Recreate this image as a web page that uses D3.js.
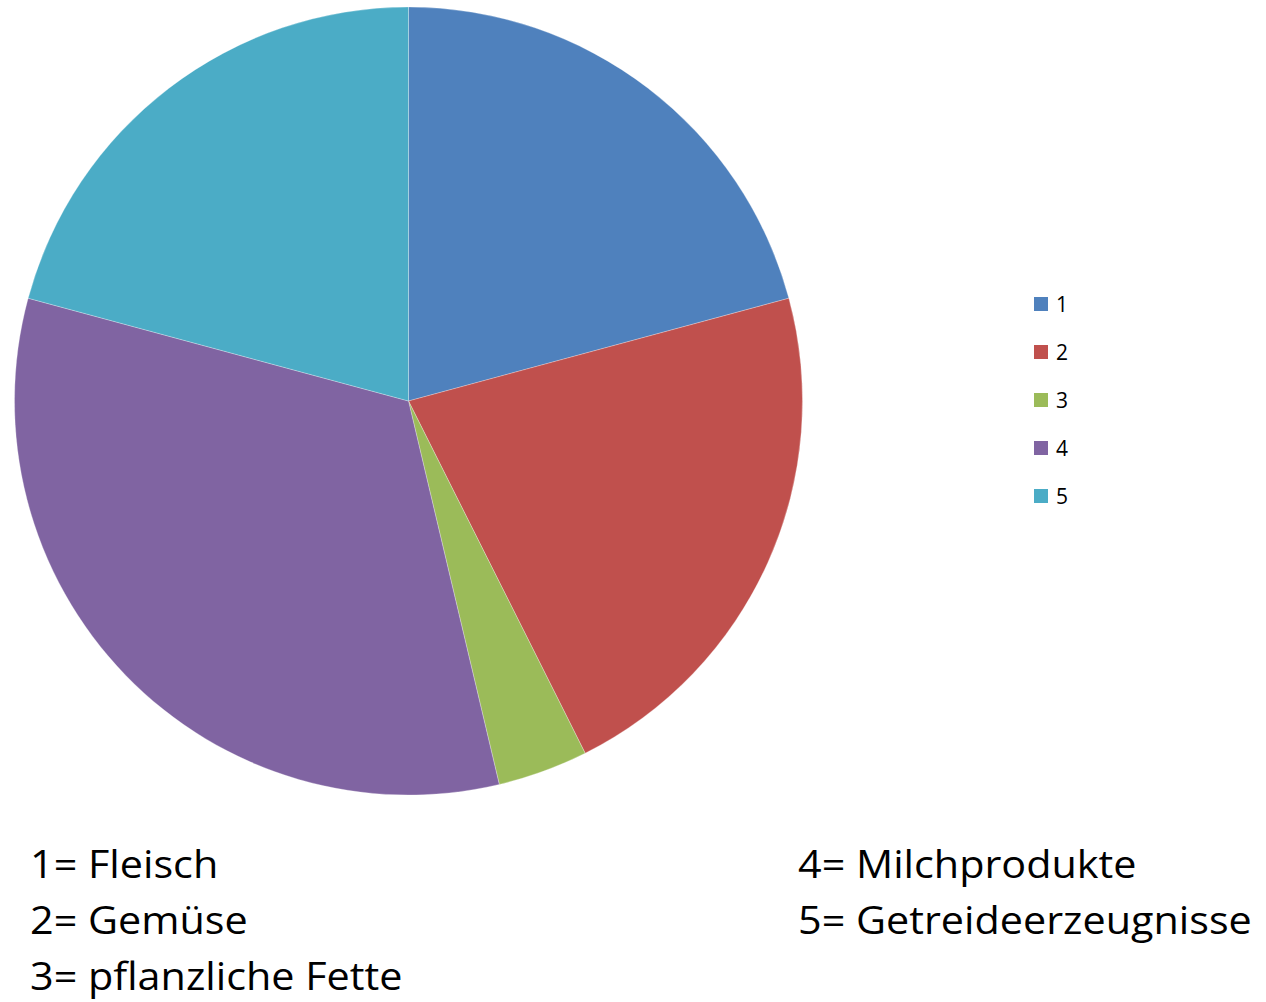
<!DOCTYPE html>
<html>
<head>
<meta charset="utf-8">
<script src="https://cdn.jsdelivr.net/npm/d3@7"></script>
<style>
  body { margin: 0; background: #fff; }
  svg { display: block; font-family: "Open Sans", "Liberation Sans", sans-serif; }
</style>
</head>
<body>
<div id="chart"></div>
<script>
var keys = ['1', '2', '3', '4', '5'];
var values = [20.8, 21.8, 3.7, 32.9, 20.8];
var names = ['Fleisch', 'Gemüse', 'pflanzliche Fette', 'Milchprodukte', 'Getreideerzeugnisse'];
var colors = ['#4F81BD', '#C0504D', '#9BBB59', '#8064A2', '#4BACC6'];

var W = 1266, H = 1002,
cx = 408.5, cy = 401, r = 394;

var svg = d3.select('#chart').
append('svg').
attr('width', W).
attr('height', H);

var pie = d3.pie().sort(null).value(d => d);
var arc = d3.arc().innerRadius(0).outerRadius(r);
var color = d3.scaleOrdinal().domain(keys).range(colors);

svg.append('g').
attr('transform', 'translate(' + cx + ',' + cy + ')').
selectAll('path').
data(pie(values)).
enter().
append('path').
attr('d', arc).
attr('fill', (d, i) => color(keys[i])).
attr('stroke', 'rgba(255,255,255,0.35)').
attr('stroke-width', 0.8);

// legend
var legendY = d3.scalePoint().domain(keys).range([304, 496]);
var legend = svg.append('g').
selectAll('g').
data(keys).
enter().
append('g').
attr('transform', d => 'translate(1034,' + legendY(d) + ')');

legend.append('rect').
attr('x', 0).
attr('y', -7).
attr('width', 14).
attr('height', 14).
attr('fill', d => color(d));

legend.append('text').
attr('x', 22).
attr('y', 7.5).
attr('font-size', 21).
attr('fill', '#000').
text(d => d);

// key text below the pie (Calibri-like: a bit wider than Open Sans)
var notes = svg.append('g');
notes.selectAll('text').
data(keys).
enter().
append('text').
attr('transform', (d, i) => 'translate(' + (i < 3 ? 30 : 798) + ',' + (878 + i % 3 * 56) + ') scale(1.06,1)').
attr('font-size', 39).
attr('fill', '#000').
text((d, i) => d + '= ' + names[i]);
</script>
</body>
</html>
